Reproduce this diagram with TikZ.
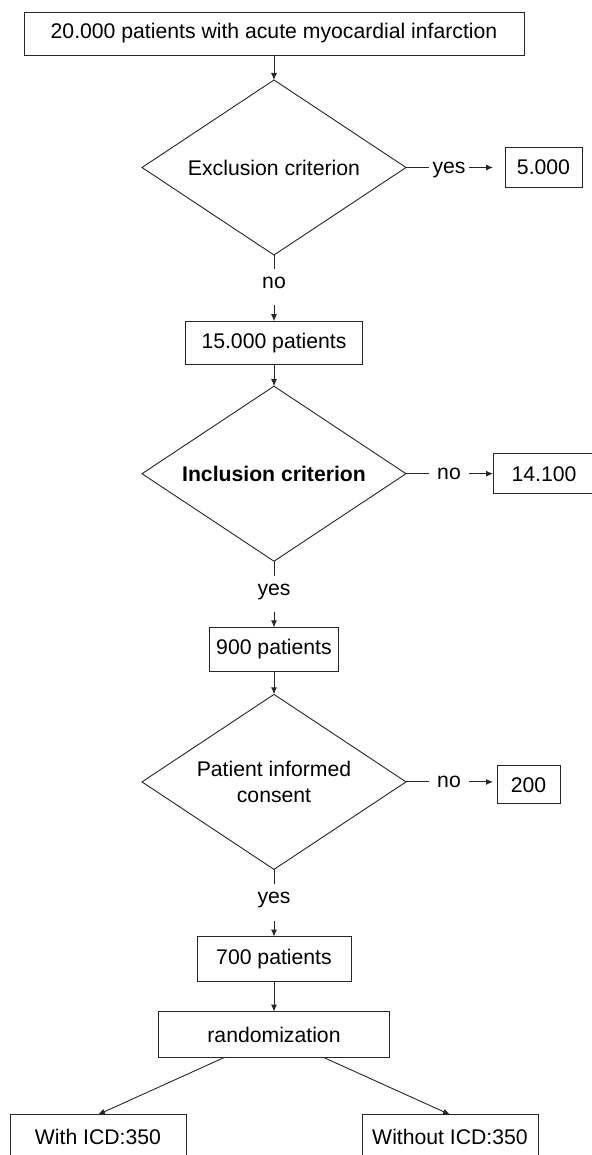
\documentclass[tikz,border=0pt]{standalone}
\usepackage{fontspec}
\setmainfont{Liberation Sans}
\usetikzlibrary{positioning,shapes.geometric,arrows.meta}

\begin{document}
\begin{tikzpicture}[
                font=\fontsize{10.6}{12.7}\selectfont,
                node distance=12pt,
                >={Latex[length=3.5pt,width=3pt]},
                conn/.style={draw=black!85,line width=0.45pt},
                box/.style={rectangle,draw=black!85,line width=0.45pt,inner sep=0pt,outer sep=0pt,minimum height=21.5pt},
                decision/.style={diamond,draw=black!85,line width=0.45pt,inner sep=0pt,outer sep=0pt,
                                 shape aspect=1.5,minimum width=132pt,minimum height=87.5pt,align=center},
                lbl/.style={inner xsep=1pt,inner ysep=4pt,outer sep=0pt,text height=5.6pt,text depth=4.5pt,minimum width=20pt},
                lblside/.style={inner xsep=1pt,inner ysep=2pt,outer sep=0pt,text height=5.6pt,text depth=0pt,minimum width=20pt}
            ]
                \clip (0,0) rectangle (296pt,-577.5pt);
                % main column
                \node[box,minimum width=250pt] (ami) at (137pt,-16.75pt) {20.000 patients with acute myocardial infarction};
                \node[decision,below=12.5pt of ami] (excl) {Exclusion criterion};
                \node[lbl,below=7pt of excl] (exclno) {no};
                \node[box,minimum width=88.5pt,below=8pt of exclno] (pat15) {15.000 patients};
                \node[decision,below=11pt of pat15] (incl) {\bfseries Inclusion criterion};
                \node[lbl,below=7.5pt of incl] (inclyes) {yes};
                \node[box,minimum width=64.5pt,minimum height=22pt,below=7.5pt of inclyes] (pat900) {900 patients};
                \node[decision,below=11.5pt of pat900] (cons) {Patient informed\\consent};
                \node[lbl,below=7.5pt of cons] (consyes) {yes};
                \node[box,minimum width=77pt,minimum height=22.5pt,below=8pt of consyes] (pat700) {700 patients};
                \node[box,minimum width=115.5pt,minimum height=23pt,below=15pt of pat700] (rand) {randomization};
                \node[box,minimum width=88pt,minimum height=22.5pt,below=28.5pt of rand,xshift=-88pt] (withicd) {With ICD:350};
                \node[box,minimum width=88pt,minimum height=22.5pt,below=28.5pt of rand,xshift=88pt] (without) {Without ICD:350};
                % side branches
                \node[lblside,right=11.5pt of excl] (exclyes) {yes};
                \node[box,minimum width=38.5pt,minimum height=20pt,right=18pt of exclyes] (excl5) {5.000};
                \node[lblside,right=11.5pt of incl] (inclno) {no};
                \node[box,minimum width=51pt,minimum height=20pt,right=12pt of inclno] (incl14) {14.100};
                \node[lblside,right=11.5pt of cons] (consno) {no};
                \node[box,minimum width=31.5pt,minimum height=19pt,right=14pt of consno,yshift=-1.5pt] (cons200) {200};

                \draw[conn,->] (ami) -- (excl);
                \draw[conn] (excl) -- (exclno);
                \draw[conn,->] (exclno) -- (pat15);
                \draw[conn,->] (pat15) -- (incl);
                \draw[conn] (incl) -- (inclyes);
                \draw[conn,->] (inclyes) -- (pat900);
                \draw[conn,->] (pat900) -- (cons);
                \draw[conn] (cons) -- (consyes);
                \draw[conn,->] (consyes) -- (pat700);
                \draw[conn,->] (pat700) -- (rand);
                \draw[conn,->] ([xshift=-25pt]rand.south) -- (withicd.north);
                \draw[conn,->] ([xshift=25pt]rand.south) -- (without.north);

                \draw[conn] (excl) -- (exclyes);
                \draw[conn,->,shorten >=6pt] (exclyes) -- (excl5);
                \draw[conn] (incl) -- (inclno);
                \draw[conn,->] (inclno) -- (incl14);
                \draw[conn] (cons) -- (consno);
                \draw[conn,->,shorten >=2pt] (consno) -- (consno -| cons200.west);
            \end{tikzpicture}
\end{document}
